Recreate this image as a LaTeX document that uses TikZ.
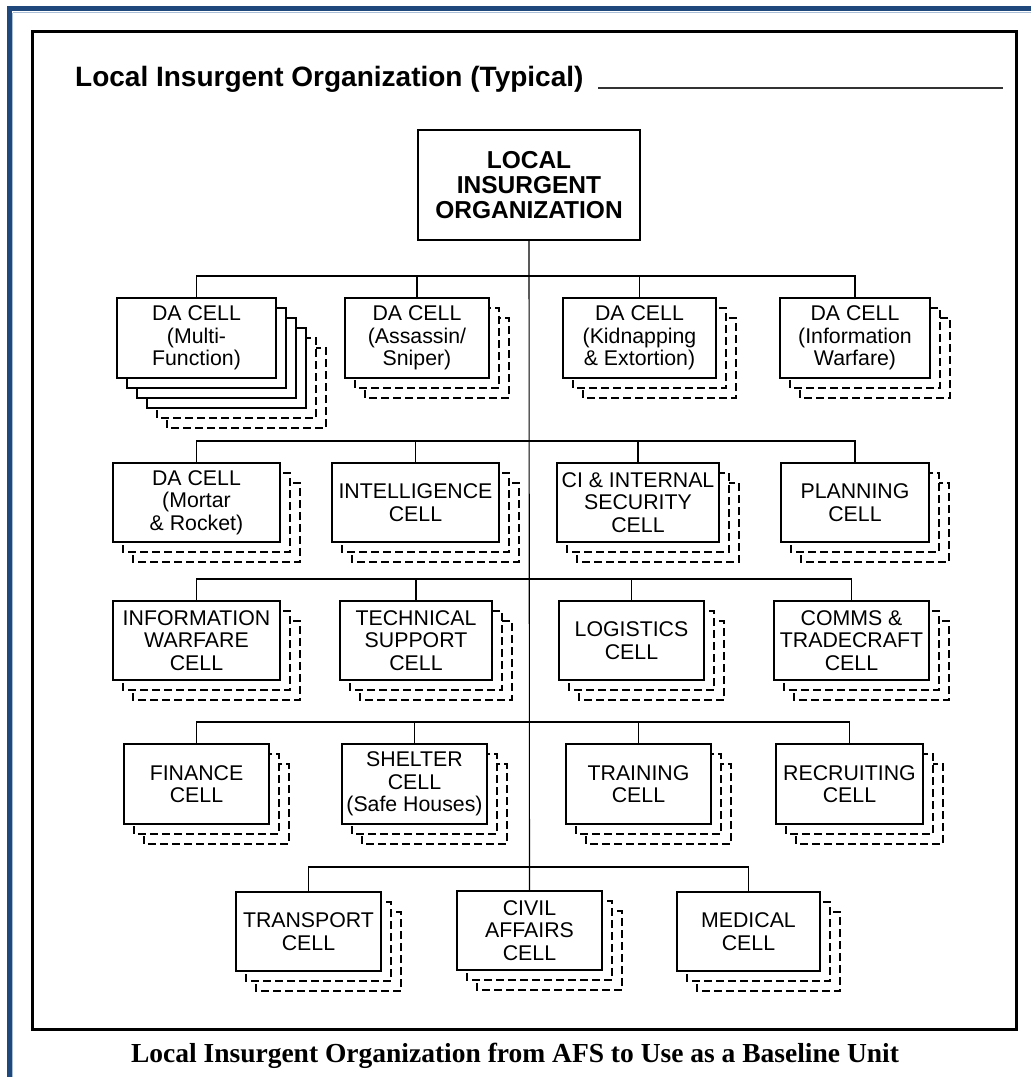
\documentclass[tikz,border=0pt]{standalone}
\usepackage{fontspec}
\setmainfont{Liberation Sans}
\newfontfamily\capfont{Liberation Serif}
\definecolor{framebl}{RGB}{31,73,125}
\definecolor{framelt}{RGB}{170,190,215}
\newcommand\cellstack[8]{%
  \pgfmathtruncatemacro\tot{#6+#7}%
  \foreach \k in {\tot,...,1}{%
    \ifnum\k>#6\relax\def\st{shadowdash}\else\def\st{shadowsolid}\fi
    \draw[\st] ({#2+\k*10},{#3+\k*10}) rectangle ({#4+\k*10},{#5+\k*10});
  }%
  \node[cellbox, minimum width={#4-#2}, minimum height={#5-#3}] (#1) at ({(#2+#4)/2},{(#3+#5)/2}) {#8};%
}
\tikzset{
  cellbox/.style={draw, line width=1.1pt, fill=white, inner sep=0pt, align=center,
    font=\fontsize{21.3}{22.5}\selectfont},
  shadowsolid/.style={draw, line width=1.1pt, fill=white},
  shadowdash/.style={draw, line width=1.1pt, fill=white, dash pattern=on 8pt off 4pt},
  link/.style={line width=1.1pt},
}
\begin{document}
\begin{tikzpicture}[x=1pt,y=-1pt]
\useasboundingbox (0,0) rectangle (1031,1077);
\fill[white] (0,0) rectangle (1031,1077);
% outer blue frame
\draw[framelt, line width=1.5pt] (13,12.5) -- (1031,12.5);
\draw[framelt, line width=1.5pt] (12.5,12.5) -- (12.5,1077);
\draw[framebl, line width=5pt] (7,8.5) -- (1031,8.5);
\draw[framebl, line width=5pt] (9.5,6) -- (9.5,1077);
% black frame
\draw[line width=3pt] (32.5,31.5) rectangle (1016.5,1029.5);
% title
\node[anchor=base west, inner sep=0pt, font=\fontsize{28}{30}\selectfont\bfseries] (title) at (75,86) {Local Insurgent Organization (Typical)};
\coordinate (ruleA) at (598,88);
\coordinate (ruleB) at (1003,88);
\draw[line width=2pt, black!80] (ruleA) -- (ruleB);
% top box
\node[draw, line width=1.1pt, fill=white, inner sep=0pt, align=center, minimum width=222pt, minimum height=110pt,
  font=\fontsize{24.5}{25}\selectfont\bfseries] (top) at (529,185) {LOCAL\\INSURGENT\\ORGANIZATION};
% row 1
\cellstack{c11}{117}{298}{276}{378}{3}{2}{DA CELL\\(Multi-\\Function)}
\cellstack{c12}{345}{298}{489}{378}{0}{2}{DA CELL\\(Assassin/\\Sniper)}
\cellstack{c13}{563}{298}{716}{378}{0}{2}{DA CELL\\(Kidnapping\\\& Extortion)}
\cellstack{c14}{780}{298}{930}{378}{0}{2}{DA CELL\\(Information\\Warfare)}
% row 2
\cellstack{c21}{113}{463}{280}{542}{0}{2}{DA CELL\\(Mortar\\\& Rocket)}
\cellstack{c22}{332}{463}{499}{542}{0}{2}{INTELLIGENCE\\CELL}
\cellstack{c23}{557}{463}{719}{542}{0}{2}{CI \& INTERNAL\\SECURITY\\CELL}
\cellstack{c24}{781}{463}{929}{542}{0}{2}{PLANNING\\CELL}
% row 3
\cellstack{c31}{113}{601}{280}{680}{0}{2}{INFORMATION\\WARFARE\\CELL}
\cellstack{c32}{340}{601}{492}{680}{0}{2}{TECHNICAL\\SUPPORT\\CELL}
\cellstack{c33}{559}{601}{704}{680}{0}{2}{LOGISTICS\\CELL}
\cellstack{c34}{774}{601}{929}{680}{0}{2}{COMMS \&\\TRADECRAFT\\CELL}
% row 4
\cellstack{c41}{124}{744}{269}{824}{0}{2}{FINANCE\\CELL}
\cellstack{c42}{342}{744}{487}{824}{0}{2}{SHELTER\\CELL\\(Safe Houses)}
\cellstack{c43}{566}{744}{711}{824}{0}{2}{TRAINING\\CELL}
\cellstack{c44}{776}{744}{923}{824}{0}{2}{RECRUITING\\CELL}
% row 5
\cellstack{c51}{236}{892}{381}{971}{0}{2}{TRANSPORT\\CELL}
\cellstack{c52}{457}{891}{602}{970}{0}{2}{CIVIL\\AFFAIRS\\CELL}
\cellstack{c53}{677}{892}{820}{971}{0}{2}{MEDICAL\\CELL}
% bus coordinates
\coordinate (b1) at (0,276);
\coordinate (b2) at (0,441);
\coordinate (b3) at (0,579);
\coordinate (b4) at (0,722);
\coordinate (b5) at (0,867);
% trunk
\draw[link] (top.south) -- (c52.north);
% buses and stems
\foreach \r/\a/\b/\c/\d in {1/c11/c12/c13/c14, 2/c21/c22/c23/c24, 3/c31/c32/c33/c34, 4/c41/c42/c43/c44}{
  \draw[link] (\a.north) -- (\a.north |- b\r) -- (\d.north |- b\r) -- (\d.north);
  \draw[link] (\b.north) -- (\b.north |- b\r);
  \draw[link] (\c.north) -- (\c.north |- b\r);
}
\draw[link] (c51.north) -- (c51.north |- b5) -- (c53.north |- b5) -- (c53.north);
% caption
\node[anchor=base, inner sep=0pt, font=\capfont\bfseries\fontsize{27.5}{30}\selectfont] (caption) at (515,1062) {Local Insurgent Organization from AFS to Use as a Baseline Unit};
\end{tikzpicture}
\end{document}
